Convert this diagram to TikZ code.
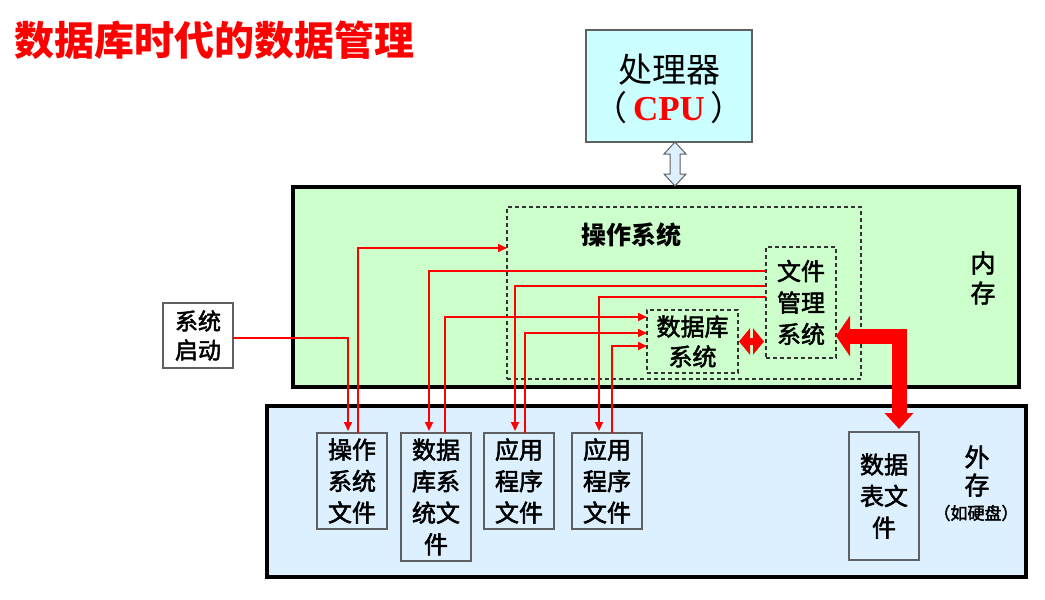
\documentclass[tikz,border=0pt]{standalone}
\usepackage{fontspec}
\usetikzlibrary{arrows.meta,calc}
\newfontfamily\cjk{Noto Sans CJK SC}
\newfontfamily\cjkm{Noto Sans CJK SC}[RawFeature={embolden=2.2}]
\newfontfamily\serifb{Liberation Serif}
\definecolor{memg}{HTML}{CCFFCC}
\definecolor{extb}{HTML}{DDF0FF}
\definecolor{cpuc}{HTML}{CCFFFF}
\definecolor{bord}{HTML}{606060}
\definecolor{dash}{HTML}{333333}
\tikzset{
  bigbox/.style={draw=black, line width=4.5pt, outer sep=0pt, inner sep=0pt},
  filebox/.style={draw=bord, line width=1.5pt, outer sep=0pt, inner sep=0pt, minimum width=70pt, align=center,
     font=\cjkm\fontsize{24}{31.5}\selectfont},
  dbox/.style={draw=dash, line width=1.2pt, dash pattern=on 4pt off 3pt, outer sep=0pt, inner sep=0pt, align=center},
  redln/.style={red, line width=1.8pt, -{Triangle[length=9pt,width=8pt]}},
  lbl/.style={align=center, inner sep=0pt}
}
\begin{document}
\begin{tikzpicture}[x=1pt,y=-1pt]
\useasboundingbox (0,0) rectangle (1045,600);
% title
\node[anchor=west, font=\cjk\bfseries\fontsize{40}{42}\selectfont, text=red, inner sep=0pt] (title) at (14,40) {数据库时代的数据管理};
% CPU
\node[draw=bord, line width=1.2pt, fill=cpuc, minimum width=166pt, minimum height=112pt, outer sep=0pt, inner sep=0pt] (cpu) at (669,86) {};
\node[lbl, font=\cjk\fontsize{34}{38}\selectfont] (cputxt) at (669,89) {处理器\\（\,{\serifb\bfseries\fontsize{35}{38}\selectfont\color{red}CPU}\,）};
% memory and external storage
\node[bigbox, fill=memg, minimum width=726pt, minimum height=200pt] (mem) at (656,287) {};
\node[bigbox, fill=extb, minimum width=759pt, minimum height=171pt] (ext) at (646.5,491.5) {};
% hollow double arrow CPU <-> memory
\coordinate (ua) at ([xshift=6pt]cpu.south);
\draw[fill=extb, draw=bord, line width=1pt, line join=miter] (ua) -- ++(11,12) -- ++(-6,0) -- ++(0,20) -- ++(6,0) -- ++(-11,12) -- ++(-11,-12) -- ++(6,0) -- ++(0,-20) -- ++(-6,0) -- cycle;
% OS dashed box
\node[dbox, minimum width=354pt, minimum height=172pt] (os) at (684,293) {};
\node[lbl, font=\cjk\bfseries\fontsize{25}{30}\selectfont] (oslbl) at (631,235) {操作系统};
\node[dbox, minimum width=70pt, minimum height=111pt, font=\cjkm\fontsize{24}{31.5}\selectfont] (fm) at (801,302.5) {文件\\管理\\系统};
\node[dbox, minimum width=91pt, minimum height=63pt, font=\cjkm\fontsize{24}{30}\selectfont] (db) at (692.5,341.5) {数据库\\系统};
\node[lbl, font=\cjkm\fontsize{25}{30}\selectfont] (neicun) at (983,278) {内\\存};
% system start
\node[filebox, fill=white, minimum height=65pt, font=\cjkm\fontsize{23}{29}\selectfont] (start) at (198,335.5) {系统\\启动};
% files
\node[filebox, minimum height=96pt] (f1) at (352,481) {操作\\系统\\文件};
\node[filebox, minimum height=128pt] (f2) at (436,497) {数据\\库系\\统文\\件};
\node[filebox, minimum height=96pt] (f3) at (519,481) {应用\\程序\\文件};
\node[filebox, minimum height=96pt] (f4) at (607,481) {应用\\程序\\文件};
\node[filebox, minimum height=128pt] (dt) at (884,496) {数据\\表文\\件};
\node[lbl, font=\cjkm\fontsize{25}{28}\selectfont] (waicun) at (977,471) {外\\存};
\node[lbl, font=\cjkm\fontsize{17}{20}\selectfont] (rupan) at (976,513) {（如硬盘）};
% red thin connectors
\draw[redln, shorten >=2pt] ([yshift=-2.5pt]start.east) -| ([xshift=-4pt]f1.north);
\draw[redln] ([xshift=6pt]f1.north) |- ([yshift=45pt]os.west);
\draw[redln, shorten >=2pt] ([yshift=31.5pt]fm.west) -| ([xshift=-7pt]f2.north);
\draw[redln] ([xshift=9pt]f2.north) |- ([yshift=24.5pt]db.west);
\draw[redln, shorten >=2pt] ([yshift=16.5pt]fm.west) -| ([xshift=-4pt]f3.north);
\draw[redln] ([xshift=6pt]f3.north) |- ([yshift=8.5pt]db.west);
\draw[redln, shorten >=2pt] ([yshift=5.5pt]fm.west) -| ([xshift=-8pt]f4.north);
\draw[redln] ([xshift=5pt]f4.north) |- ([yshift=-4.5pt]db.west);
% db <-> fm
\draw[red, line width=7pt, {Triangle[width=26pt,length=11pt]}-{Triangle[width=26pt,length=11pt]}, shorten <=1pt, shorten >=2pt] (db.east) -- (db.east -| fm.west);
% big red arrow fm <-> data table file
\draw[red, line width=15pt, line join=miter, {Triangle[width=40pt,length=14pt]}-{Triangle[width=28pt,length=16pt]}, shorten >=3pt] ([yshift=-33.5pt]fm.east) -| ([xshift=15pt]dt.north);
\end{tikzpicture}
\end{document}
